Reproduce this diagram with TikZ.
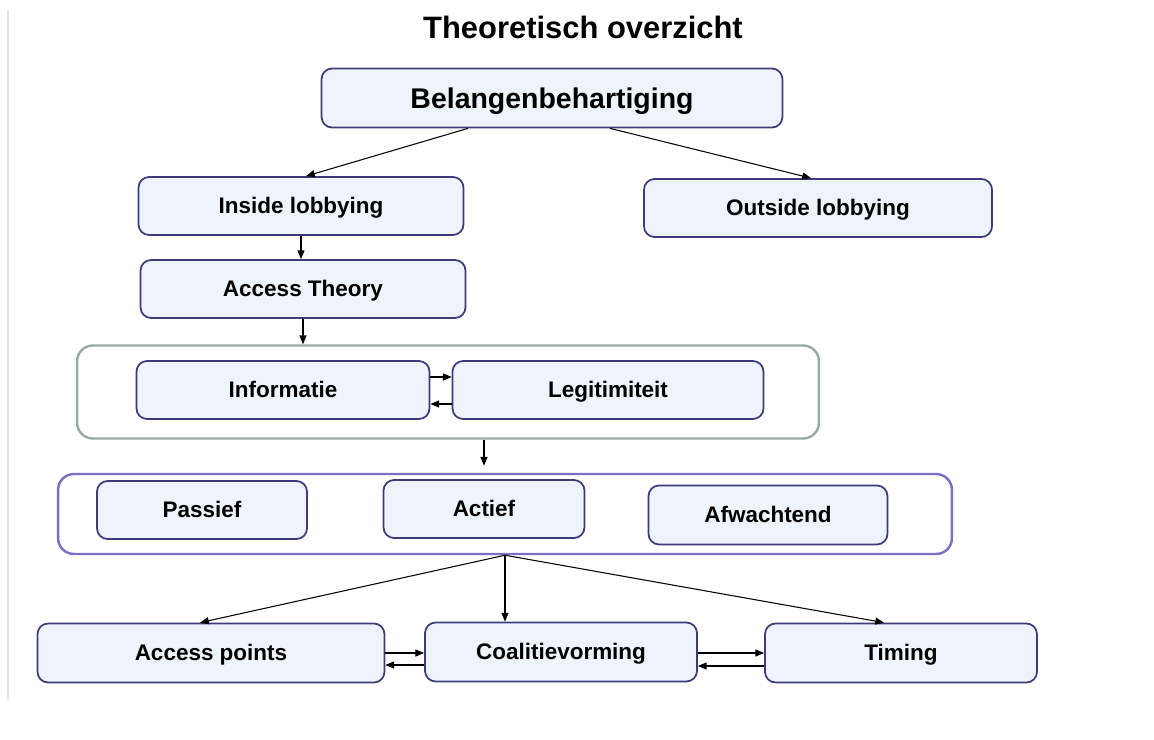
\documentclass[tikz,border=0pt]{standalone}
\usepackage{fontspec}
\setmainfont{Liberation Sans}
\usepackage{xcolor}
\usepackage{tikz}
\usetikzlibrary{arrows.meta}
\definecolor{randdonker}{HTML}{3D3B78}
\definecolor{vulblauw}{HTML}{EEF4FC}
\definecolor{randgrijs}{HTML}{9AABA7}
\definecolor{randpaars}{HTML}{7B70C2}
\tikzset{
  kader/.style={rectangle, rounded corners=6pt, draw=randdonker, line width=1pt,
    fill=vulblauw, inner sep=0pt, minimum height=1.16cm, text height=9pt, text depth=0pt,
    font=\fontsize{12.8}{14}\selectfont\bfseries},
  groep/.style={rectangle, rounded corners=9pt, line width=1.4pt, fill=white, inner sep=0pt},
  pijl/.style={-{Triangle[length=5pt,width=4pt]}, line width=0.6pt, black}
}

\begin{document}
\begin{tikzpicture}[x=0.02cm, y=-0.02cm]
  \useasboundingbox (0,0) rectangle (1154,740);
  \draw[black!10, line width=0.8pt] (8,10) -- (8,700);

  \node[font=\fontsize{17.6}{20}\selectfont\bfseries, text height=12.5pt, text depth=0pt] (titel) at (583,28) {Theoretisch overzicht};
  \node[kader, minimum width=9.22cm, minimum height=1.18cm, text height=11.5pt,
    font=\fontsize{16.2}{19}\selectfont\bfseries] (belang) at (552,98) {Belangenbehartiging};
  \node[kader, minimum width=6.5cm] (inside) at (301,206) {Inside lobbying};
  \node[kader, minimum width=6.96cm] (outside) at (818,208) {Outside lobbying};
  \node[kader, minimum width=6.5cm] (access) at (303,289) {Access Theory};

  % groep met middelen
  \node[groep, draw=randgrijs, minimum width=14.84cm, minimum height=1.86cm] (middelen) at (448,392) {};
  \node[kader, minimum width=5.86cm] (info) at (283,390) {Informatie};
  \node[kader, minimum width=6.22cm] (legit) at (608,390) {Legitimiteit};

  % groep met strategieen
  \node[groep, draw=randpaars, minimum width=17.88cm, minimum height=1.6cm] (strategie) at (505,514) {};
  \node[kader, minimum width=4.2cm] (passief) at (202,510) {Passief};
  \node[kader, minimum width=4.02cm] (actief) at (484,509) {Actief};
  \node[kader, minimum width=4.78cm, minimum height=1.18cm] (afwacht) at (768,515) {Afwachtend};

  \node[kader, minimum width=6.94cm, minimum height=1.18cm] (points) at (211,653) {Access points};
  \node[kader, minimum width=5.44cm, minimum height=1.18cm] (coalitie) at (561,652) {Coalitievorming};
  \node[kader, minimum width=5.44cm, minimum height=1.18cm] (timing) at (901,653) {Timing};

  \draw[pijl] ([xshift=-1.68cm]belang.south) -- ([xshift=0.1cm]inside.north);
  \draw[pijl] ([xshift=1.16cm]belang.south) -- ([xshift=-0.14cm]outside.north);
  \draw[pijl] (inside.south) -- (inside.south |- access.north);
  \draw[pijl] (access.south) -- (access.south |- middelen.north);
  \draw[pijl] ([yshift=0.26cm]info.east) -- ([yshift=0.26cm]info.east -| legit.west);
  \draw[pijl] ([yshift=-0.28cm]legit.west) -- ([yshift=-0.28cm]legit.west -| info.east);
  \draw[pijl, shorten >=4pt] (middelen.south -| actief) -- (strategie.north -| actief);
  \draw[pijl] (strategie.south) -- ([xshift=-0.22cm]points.north);
  \draw[pijl] (strategie.south) -- (strategie.south |- coalitie.north);
  \draw[pijl] (strategie.south) -- ([xshift=-0.34cm]timing.north);
  \draw[pijl] (points.east) -- (points.east -| coalitie.west);
  \draw[pijl] ([yshift=-0.26cm]coalitie.west) -- ([yshift=-0.26cm]coalitie.west -| points.east);
  \draw[pijl] ([yshift=-0.02cm]coalitie.east) -- ([yshift=-0.02cm]coalitie.east -| timing.west);
  \draw[pijl] ([yshift=-0.26cm]timing.west) -- ([yshift=-0.26cm]timing.west -| coalitie.east);
\end{tikzpicture}
\end{document}
